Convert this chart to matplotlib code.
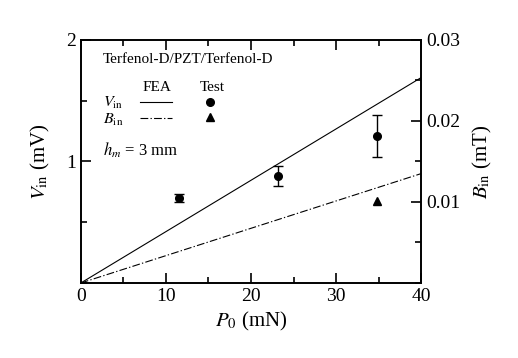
import matplotlib.pyplot as plt
from matplotlib.ticker import MultipleLocator

plt.rcParams['font.family'] = ['Liberation Serif', 'DejaVu Serif']
plt.rcParams['mathtext.fontset'] = 'stix'

# test data
p_test = [11.5, 23.2, 34.8]
v_test = [0.70, 0.88, 1.21]
v_err = [0.03, 0.085, 0.17]
p_btest = [34.8]
b_test = [0.0101]

# FEA lines
p_fea = [0, 40]
v_fea = [0, 1.69]
b_fea = [0, 0.0135]

dashdot = (0, (7, 2, 1.2, 2))

fig = plt.figure(figsize=(5.18, 3.58), dpi=100)
ax = fig.add_axes([0.156, 0.2095, 0.657, 0.679])
ax2 = ax.twinx()

ax.plot(p_fea, v_fea, color='black', lw=0.8)
ax2.plot(p_fea, b_fea, color='black', lw=0.8, linestyle=dashdot)
ax.errorbar(p_test, v_test, yerr=v_err, fmt='o', color='black', ms=5.5,
            capsize=3.5, elinewidth=1, capthick=1)
ax2.plot(p_btest, b_test, '^', color='black', ms=6)

ax.set_xlim(0, 40)
ax.set_ylim(0, 2)
ax2.set_ylim(0, 0.03)
ax.xaxis.set_major_locator(MultipleLocator(10))
ax.xaxis.set_minor_locator(MultipleLocator(5))
ax.yaxis.set_minor_locator(MultipleLocator(0.5))
ax2.yaxis.set_minor_locator(MultipleLocator(0.005))
ax.set_yticks([1, 2])
ax.set_yticklabels(['1', '2'])
ax2.set_yticks([0.01, 0.02, 0.03])
ax2.set_yticklabels(['0.01', '0.02', '0.03'])

for a in (ax, ax2):
    for s in a.spines.values():
        s.set_linewidth(1.2)
ax.tick_params(which='both', direction='in', top=True, labelsize=14, width=1.2)
ax.tick_params(which='major', length=7)
ax.tick_params(which='minor', length=4)
ax2.tick_params(which='both', direction='in', labelsize=14, width=1.2)
ax2.tick_params(which='major', length=7)
ax2.tick_params(which='minor', length=4)

ax.set_xlabel(r'$P_0$ (mN)', fontsize=15)
ax.set_ylabel(r'$V_{\mathrm{in}}$ (mV)', fontsize=15, labelpad=10)
ax2.set_ylabel(r'$B_{\mathrm{in}}$ (mT)', fontsize=15, labelpad=8)

# legend block
ax.text(0.065, 0.92, 'Terfenol-D/PZT/Terfenol-D', transform=ax.transAxes,
        fontsize=11, va='center')
ax.text(0.224, 0.805, 'FEA', transform=ax.transAxes, fontsize=11, va='center', ha='center')
ax.text(0.386, 0.805, 'Test', transform=ax.transAxes, fontsize=11, va='center', ha='center')
ax.text(0.065, 0.742, r'$V_{\mathrm{in}}$', transform=ax.transAxes, fontsize=11.5, va='center')
ax.text(0.065, 0.672, r'$B_{\mathrm{in}}$', transform=ax.transAxes, fontsize=11.5, va='center')
ax.plot([0.174, 0.268], [0.745, 0.745], transform=ax.transAxes, color='black', lw=0.8)
ax.plot([0.174, 0.268], [0.679, 0.679], transform=ax.transAxes, color='black', lw=0.8,
        linestyle=dashdot)
ax.plot([0.38], [0.745], 'o', transform=ax.transAxes, color='black', ms=5.5)
ax.plot([0.38], [0.684], '^', transform=ax.transAxes, color='black', ms=6)
ax.text(0.065, 0.545, r'$h_m$ = 3 mm', transform=ax.transAxes, fontsize=12, va='center')

fig.savefig('out.png', dpi=100)
